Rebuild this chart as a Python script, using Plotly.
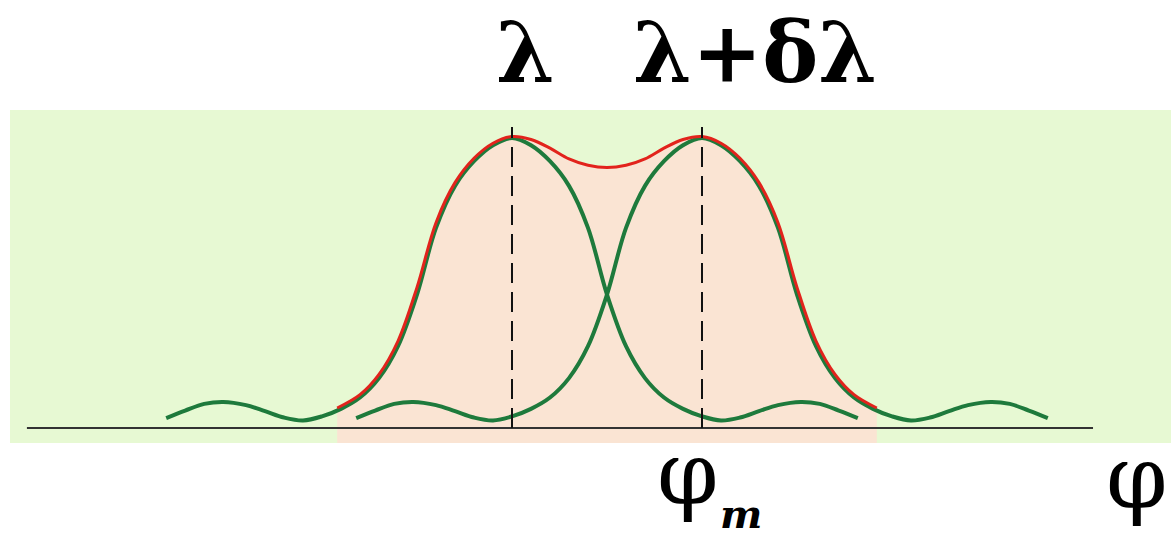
import plotly.graph_objects as go

# Spectral line positions (in units of the line separation)
line_centers = [0.0, 1.0]            # λ and λ+δλ
# Diffraction profile of one line: offset from its centre, relative intensity
profile_offset = [-1.82, -1.72, -1.62, -1.52, -1.40, -1.30, -1.20, -1.10,
                  -1.0, -0.9, -0.8, -0.7, -0.6, -0.5, -0.4, -0.3, -0.2, -0.1,
                  0.0, 0.1, 0.2, 0.3, 0.4, 0.5, 0.6, 0.7, 0.8, 0.9, 1.0,
                  1.10, 1.20, 1.30, 1.40, 1.52, 1.62, 1.72, 1.82]
profile_level = [0.034, 0.060, 0.083, 0.090, 0.079, 0.058, 0.036, 0.026,
                 0.040, 0.066, 0.105, 0.172, 0.282, 0.460, 0.690, 0.835, 0.920, 0.975,
                 1.000, 0.975, 0.920, 0.835, 0.690, 0.460, 0.282, 0.172, 0.105, 0.066, 0.040,
                 0.026, 0.036, 0.058, 0.079, 0.090, 0.083, 0.060, 0.034]

# Resulting (summed) intensity of both lines
total_x = [-0.92, -0.8, -0.7, -0.6, -0.5, -0.4, -0.3, -0.2, -0.1, 0.0, 0.1, 0.2,
           0.3, 0.4, 0.5, 0.6, 0.7, 0.8, 0.9, 1.0, 1.1, 1.2, 1.3, 1.4, 1.5, 1.6,
           1.7, 1.8, 1.92]
total_y = [0.069, 0.115, 0.185, 0.300, 0.485, 0.708, 0.846, 0.930, 0.982, 1.005, 0.995, 0.965,
           0.928, 0.906, 0.898, 0.906, 0.928, 0.965, 0.995, 1.005, 0.982, 0.930, 0.846, 0.708,
           0.485, 0.300, 0.185, 0.115, 0.069]

labels_top = ["λ", "λ+δλ"]

BG_GREEN = "#E7F9D3"
PEACH = "#FAE4D3"
LINE_GREEN = "#1E7A3C"
LINE_RED = "#E2231C"

W, H = 1171, 539
x_range = [-2.6947, 3.4684]
y_range = [-0.3828, 1.4759]
base_floor = -0.052

fig = go.Figure()

# shaded area under the resulting curve
fill_x = [total_x[0]] + total_x + [total_x[-1]]
fill_y = [base_floor] + total_y + [base_floor]
fig.add_trace(go.Scatter(x=fill_x, y=fill_y, mode="lines", fill="toself",
                         fillcolor=PEACH, line=dict(width=0, color=PEACH),
                         hoverinfo="skip", showlegend=False))

# individual line profiles
for c in line_centers:
    fig.add_trace(go.Scatter(x=[c + o for o in profile_offset], y=profile_level,
                             mode="lines",
                             line=dict(color=LINE_GREEN, width=4, shape="spline", smoothing=1.0),
                             hoverinfo="skip", showlegend=False))

# summed intensity
fig.add_trace(go.Scatter(x=total_x, y=total_y, mode="lines",
                         line=dict(color=LINE_RED, width=3, shape="spline", smoothing=1.0),
                         hoverinfo="skip", showlegend=False))

shapes = [
    dict(type="rect", xref="x", yref="y", x0=-2.642, x1=x_range[1], y0=base_floor, y1=1.097,
         fillcolor=BG_GREEN, line=dict(width=0), layer="below"),
    dict(type="line", xref="x", yref="y", x0=-2.553, x1=3.058, y0=0, y1=0,
         line=dict(color="#333333", width=2)),
]
for c in line_centers:
    shapes.append(dict(type="line", xref="x", yref="y", x0=c, x1=c, y0=0, y1=1.038,
                       line=dict(color="#111111", width=2, dash="20px,9px")))

serif = "DejaVu Serif, Liberation Serif, serif"
font_top = dict(family=serif, size=84, color="black")
font_phi = dict(family=serif, size=88, color="black")


def px(x):
    return x / W


def py(y):
    return 1 - y / H


annotations = [
    dict(x=px(525), y=py(1), text="<b>%s</b>" % labels_top[0], xref="paper", yref="paper",
         showarrow=False, font=font_top, xanchor="center", yanchor="top"),
    dict(x=px(755), y=py(1), text="<b>%s</b>" % labels_top[1], xref="paper", yref="paper",
         showarrow=False, font=font_top, xanchor="center", yanchor="top"),
    dict(x=px(688), y=py(527), text="φ", xref="paper", yref="paper",
         showarrow=False, font=font_phi, xanchor="center", yanchor="bottom"),
    dict(x=px(741), y=py(538.5), text="<b><i>m</i></b>", xref="paper", yref="paper",
         showarrow=False, font=dict(family=serif, size=40, color="black"),
         xanchor="center", yanchor="bottom"),
    dict(x=px(1170), y=py(531), text="φ", xref="paper", yref="paper",
         showarrow=False, font=font_phi, xanchor="right", yanchor="bottom"),
]

fig.update_layout(
    width=W, height=H,
    margin=dict(l=0, r=0, t=0, b=0),
    paper_bgcolor="white", plot_bgcolor="white",
    xaxis=dict(range=x_range, visible=False, fixedrange=True),
    yaxis=dict(range=y_range, visible=False, fixedrange=True),
    shapes=shapes, annotations=annotations, showlegend=False,
)

fig.write_html("out.html")
